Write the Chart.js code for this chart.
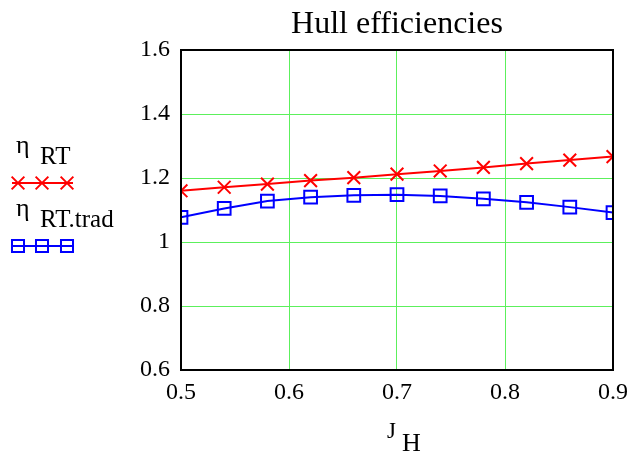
<!DOCTYPE html>
<html>
<head>
<meta charset="utf-8">
<script src="https://cdn.jsdelivr.net/npm/chart.js@4/dist/chart.umd.min.js"></script>
<style>
  html, body { margin: 0; padding: 0; background: #fff; }
  #wrap { width: 636px; height: 456px; position: relative; }
</style>
</head>
<body>
<div id="wrap"><canvas id="c" width="636" height="456"></canvas></div>
<script>
// Advance coefficient J_H and hull efficiencies
const jH = [0.5, 0.54, 0.58, 0.62, 0.66, 0.70, 0.74, 0.78, 0.82, 0.86, 0.90];
const etaRT = [1.160, 1.171, 1.181, 1.192, 1.201, 1.212, 1.222, 1.233, 1.245, 1.256, 1.267];
const etaRTtrad = [1.077, 1.105, 1.128, 1.140, 1.146, 1.148, 1.144, 1.135, 1.124, 1.109, 1.092];

const xTickLabels = ['0.5', '0.6', '0.7', '0.8', '0.9'];
const yTickLabels = ['0.6', '0.8', '1', '1.2', '1.4', '1.6'];

const chartTitle = 'Hull efficiencies';
const seriesNames = [['\u03B7', 'RT'], ['\u03B7', 'RT.trad']];
const xAxisTitle = ['J', 'H'];

const SERIF = '"Liberation Serif", "Times New Roman", serif';
const RED = '#ff0000';
const BLUE = '#0000ff';
const GRID = '#5cf05c';

const decorations = {
  id: 'decorations',
  afterDraw(chart) {
    const { ctx, chartArea: a } = chart;
    ctx.save();
    // plot frame
    ctx.strokeStyle = '#000';
    ctx.lineWidth = 2;
    ctx.strokeRect(a.left, a.top, a.right - a.left, a.bottom - a.top);

    ctx.fillStyle = '#000';
    ctx.textBaseline = 'alphabetic';
    // title
    ctx.font = '32px ' + SERIF;
    ctx.textAlign = 'center';
    ctx.fillText(chartTitle, (a.left + a.right) / 2, 33);

    // x axis title with subscript
    ctx.textAlign = 'left';
    ctx.font = '23px ' + SERIF;
    ctx.fillText(xAxisTitle[0], 387, 438);
    ctx.font = '26px ' + SERIF;
    ctx.fillText(xAxisTitle[1], 402, 451);

    // legend
    const entries = [
      { name: seriesNames[0], color: RED, style: 'crossRot', radius: 9, textY: 164, lineY: 183 },
      { name: seriesNames[1], color: BLUE, style: 'rect', radius: 8.5, textY: 227, lineY: 246 }
    ];
    entries.forEach(e => {
      ctx.fillStyle = '#000';
      ctx.font = '26px ' + SERIF;
      ctx.fillText(e.name[0], 16, e.textY - 11);
      ctx.font = '25px ' + SERIF;
      ctx.fillText(e.name[1], 40, e.textY);
      ctx.strokeStyle = e.color;
      ctx.lineWidth = 2;
      ctx.beginPath();
      ctx.moveTo(12, e.lineY);
      ctx.lineTo(73, e.lineY);
      ctx.stroke();
      ctx.fillStyle = 'rgba(0,0,0,0)';
      [18, 42, 67].forEach(px => {
        Chart.helpers.drawPoint(ctx, {
          pointStyle: e.style, radius: e.radius, borderWidth: 2, rotation: 0
        }, px, e.lineY);
      });
    });
    ctx.restore();
  }
};

new Chart(document.getElementById('c'), {
  type: 'line',
  data: {
    datasets: [
      {
        label: seriesNames[0].join(' '),
        data: jH.map((x, i) => ({ x, y: etaRT[i] })),
        borderColor: RED,
        backgroundColor: 'transparent',
        borderWidth: 2,
        pointStyle: 'crossRot',
        pointRadius: 9,
        pointBorderWidth: 2,
        pointBorderColor: RED,
        tension: 0
      },
      {
        label: seriesNames[1].join(' '),
        data: jH.map((x, i) => ({ x, y: etaRTtrad[i] })),
        borderColor: BLUE,
        backgroundColor: 'transparent',
        borderWidth: 2,
        pointStyle: 'rect',
        pointRadius: 9,
        pointBorderWidth: 2,
        pointBorderColor: BLUE,
        pointBackgroundColor: 'transparent',
        tension: 0
      }
    ]
  },
  options: {
    responsive: false,
    animation: false,
    devicePixelRatio: 1,
    layout: { padding: { left: 0, right: 23, top: 50, bottom: 0 } },
    plugins: { legend: { display: false }, title: { display: false }, tooltip: { enabled: false } },
    scales: {
      x: {
        type: 'linear',
        min: 0.5, max: 0.9,
        afterFit(s) { s.height = 86; },
        afterBuildTicks(s) { s.ticks = xTickLabels.map(v => ({ value: parseFloat(v) })); },
        ticks: {
          color: '#000',
          font: { family: SERIF, size: 24 },
          padding: 8,
          maxRotation: 0,
          autoSkip: false,
          callback: (v, i) => xTickLabels[i]
        },
        grid: {
          color: ctx => (ctx.tick && (ctx.index === 0 || ctx.index === xTickLabels.length - 1)) ? 'transparent' : GRID,
          lineWidth: 1,
          drawTicks: false
        },
        border: { display: false }
      },
      y: {
        type: 'linear',
        min: 0.6, max: 1.6,
        afterFit(s) { s.width = 181; },
        afterBuildTicks(s) { s.ticks = yTickLabels.map(v => ({ value: parseFloat(v) })); },
        ticks: {
          color: '#000',
          font: { family: SERIF, size: 24 },
          padding: 11,
          autoSkip: false,
          callback: (v, i) => yTickLabels[i]
        },
        grid: {
          color: ctx => (ctx.tick && (ctx.index === 0 || ctx.index === yTickLabels.length - 1)) ? 'transparent' : GRID,
          lineWidth: 1,
          drawTicks: false
        },
        border: { display: false }
      }
    }
  },
  plugins: [decorations]
});
</script>
</body>
</html>
